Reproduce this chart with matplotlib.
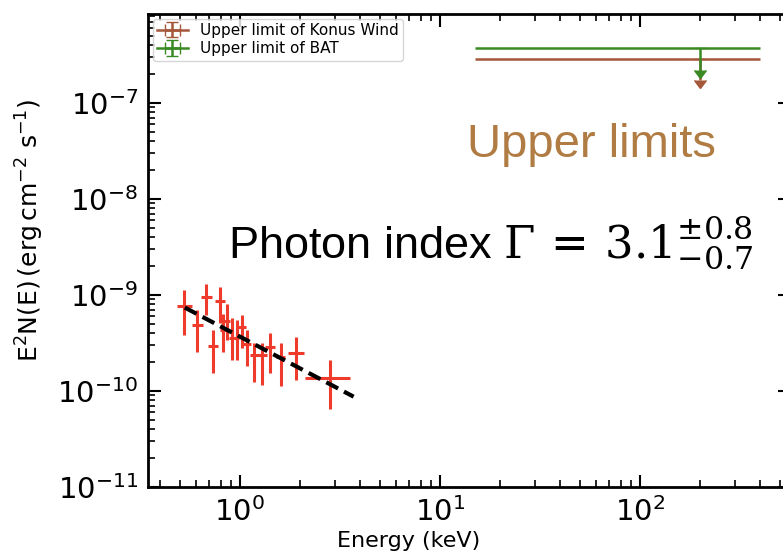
import numpy as np
import matplotlib
matplotlib.use("Agg")
import matplotlib.pyplot as plt

# XRT spectral points: energy (keV) with bin edges, E^2 N(E) with 1-sigma bounds
energy = [0.527, 0.612, 0.674, 0.730, 0.794, 0.825, 0.864, 0.909, 0.963,
          1.02, 1.09, 1.179, 1.293, 1.413, 1.598, 1.905, 2.818]
energy_lo = [0.483, 0.573, 0.636, 0.689, 0.750, 0.795, 0.835, 0.880, 0.935,
             0.975, 1.04, 1.12, 1.23, 1.34, 1.52, 1.745, 2.11]
energy_hi = [0.573, 0.655, 0.722, 0.779, 0.841, 0.855, 0.895, 0.940, 0.990,
             1.07, 1.14, 1.24, 1.36, 1.49, 1.68, 2.09, 3.55]
flux = [7.73e-10, 4.91e-10, 9.46e-10, 2.96e-10, 8.6e-10, 4.3e-10, 5.36e-10,
        3.56e-10, 3.56e-10, 4.61e-10, 3.09e-10, 2.37e-10, 2.37e-10, 2.89e-10,
        2.24e-10, 2.47e-10, 1.376e-10]
flux_lo = [3.86e-10, 2.55e-10, 6.15e-10, 1.54e-10, 5.11e-10, 2.55e-10, 3.42e-10,
           2.12e-10, 2.12e-10, 2.8e-10, 1.80e-10, 1.25e-10, 1.155e-10, 1.53e-10,
           1.13e-10, 1.30e-10, 6.5e-11]
flux_hi = [1.135e-9, 7.03e-10, 1.30e-9, 4.35e-10, 1.20e-9, 6.4e-10, 8.05e-10,
           5.75e-10, 5.53e-10, 6.19e-10, 4.27e-10, 3.14e-10, 3.14e-10, 4.05e-10,
           3.19e-10, 3.62e-10, 2.10e-10]

# Power-law fit: E^2 N(E) = K * E^(2 - Gamma)
gamma = 3.1
norm_1keV = 3.68e-10
fit_range = [0.53, 3.7]

# Upper limits: band centre, band edges, limit value, arrow end
konus_e, konus_lo, konus_hi = 200.0, 15.0, 400.0
konus_limit, konus_arrow_end = 2.87e-7, 1.74e-7
bat_e, bat_lo, bat_hi = 200.0, 15.0, 400.0
bat_limit, bat_arrow_end = 3.74e-7, 2.21e-7

red = "#ee3b2c"
brown = "#a5573a"
green = "#3a8a24"
label_brown = "#b07c43"

fig = plt.figure(figsize=(7.83, 5.57), dpi=100)
ax = fig.add_axes([148 / 783, 70 / 557, 642 / 783, 473 / 557])
ax.set_xscale("log")
ax.set_yscale("log")

e = np.array(energy)
f = np.array(flux)
xerr = [e - np.array(energy_lo), np.array(energy_hi) - e]
yerr = [f - np.array(flux_lo), np.array(flux_hi) - f]
ax.errorbar(e, f, xerr=xerr, yerr=yerr, fmt="none", ecolor=red,
            elinewidth=2.2, capsize=0, zorder=3)

fe = np.array(fit_range)
ax.plot(fe, norm_1keV * fe ** (2 - gamma), color="black", lw=3,
        ls=(0, (3.2, 1.6)), zorder=4)

limits = []
limits.append(ax.errorbar([konus_e], [konus_limit],
              xerr=[[konus_e - konus_lo], [konus_hi - konus_e]],
              yerr=[[konus_limit - konus_arrow_end]], uplims=True,
              color=brown, ecolor=brown, lw=1.8, elinewidth=1.8, capsize=4,
              label="Upper limit of Konus Wind", zorder=5))
limits.append(ax.errorbar([bat_e], [bat_limit],
              xerr=[[bat_e - bat_lo], [bat_hi - bat_e]],
              yerr=[[bat_limit - bat_arrow_end]], uplims=True,
              color=green, ecolor=green, lw=1.8, elinewidth=1.8, capsize=4,
              label="Upper limit of BAT", zorder=6))

ax.set_xlim(0.347, 562)
ax.set_ylim(1e-11, 8.45e-7)

ax.text(0.1246, 0.484,
        r"Photon index $\Gamma\,=\,3.1^{\pm0.8}_{-0.7}$",
        transform=ax.transAxes, fontsize=32.5, family="Liberation Sans",
        math_fontfamily="dejavuserif", va="baseline", ha="left")
ax.text(0.497, 0.698, "Upper limits", transform=ax.transAxes, fontsize=34,
        family="Liberation Sans", color=label_brown, va="baseline", ha="left")

ax.set_xlabel("Energy (keV)", fontsize=16)
ax.set_ylabel(r"E$^2$N(E)$\,$(erg$\,$cm$^{-2}$ s$^{-1}$)", fontsize=18)
ax.xaxis.set_label_coords((409 - 148) / 642, -0.092)
ax.yaxis.set_label_coords((46 - 148) / 642, (487 - 230) / 473)

ax.tick_params(which="both", direction="in", top=True, right=True)
ax.tick_params(which="major", length=9, width=1.5, labelsize=21, pad=7)
ax.tick_params(which="minor", length=5, width=1.2)
for s in ax.spines.values():
    s.set_linewidth(2)

ax.legend(loc="upper left", fontsize=11, borderaxespad=0.3,
          handlelength=2.0, borderpad=0.3, labelspacing=0.2)

# The energy bands end without caps; only the downward arrows are kept
for cont in limits:
    for cap in cont.lines[1]:
        if cap.get_marker() == "|":
            cap.set_visible(False)

fig.savefig("out.png", dpi=100)
